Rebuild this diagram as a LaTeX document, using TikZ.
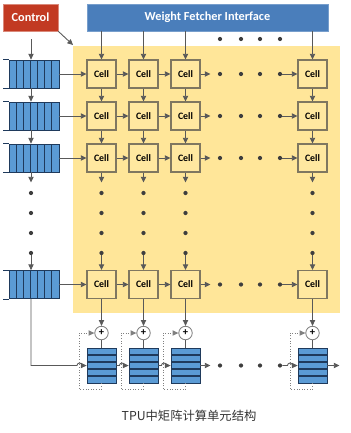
\documentclass[tikz,border=0pt]{standalone}
\usepackage{fontspec}
\usetikzlibrary{arrows.meta,calc}
\newfontfamily\calib{Carlito}
\newfontfamily\cjk{Noto Sans CJK SC}
\definecolor{ctrlred}{HTML}{C23A22}
\definecolor{fetchblue}{HTML}{4A7EBB}
\definecolor{bgyellow}{HTML}{FFE699}
\definecolor{cellfill}{HTML}{FFE8A0}
\definecolor{cellline}{HTML}{7F7760}
\definecolor{qblue}{HTML}{5B9BD5}
\definecolor{qline}{HTML}{1F3A5C}
\definecolor{wire}{HTML}{595959}

\begin{document}
\begin{tikzpicture}[x=0.02cm,y=-0.02cm,
  wire/.style={draw=wire,line width=0.5pt},
  arr/.style={wire,-{Triangle[length=3.2pt,width=3pt]}},
  fb/.style={draw=gray,line width=0.5pt,densely dotted,-{Triangle[length=3.2pt,width=3pt]}},
  dot/.style={circle,fill=wire!70!black,inner sep=0,minimum size=2.4pt},
  cell/.style={draw=cellline,fill=cellfill,line width=0.6pt,minimum width=0.58cm,minimum height=0.56cm,inner sep=0,
    text=black,font=\calib\bfseries\fontsize{5.6}{6}\selectfont},
  queue/.style={draw=qline,fill=qblue,line width=0.5pt,minimum width=1cm,minimum height=0.56cm,inner sep=0,
    path picture={\foreach \k in {1,...,6}
      \draw[qline,line width=0.5pt] ($(path picture bounding box.south west)!\k/7!(path picture bounding box.south east)$)
        -- ($(path picture bounding box.north west)!\k/7!(path picture bounding box.north east)$);}},
  acc/.style={draw=qline,fill=qblue,line width=0.5pt,minimum width=0.58cm,minimum height=0.7cm,inner sep=0,
    path picture={\foreach \k in {1,...,4}
      \draw[qline,line width=0.6pt] ($(path picture bounding box.north west)!\k/5!(path picture bounding box.south west)$)
        -- ($(path picture bounding box.north east)!\k/5!(path picture bounding box.south east)$);}},
  plus/.style={circle,draw=gray,fill=white,line width=0.5pt,minimum size=0.27cm,inner sep=0,
    font=\calib\bfseries\fontsize{6}{6}\selectfont},
  topbox/.style={minimum height=0.54cm,inner sep=0,text=white,font=\calib\bfseries\fontsize{7}{8}\selectfont}]
  \useasboundingbox (0,0) rectangle (351,433);

  % control and weight fetcher
  \node[topbox,fill=ctrlred,draw=ctrlred!60!white,minimum width=1.1cm] (ctrl) at (30.5,17.5) {Control};
  \node[topbox,fill=fetchblue,draw=fetchblue!75!white,minimum width=4.82cm] (wfi) at (207.5,17.5) {Weight Fetcher Interface};

  % systolic array area
  \fill[bgyellow] (73,46) rectangle (340,313);
  \coordinate (corner) at (73,45);
  \draw[arr] (ctrl.south east) -- (corner);

  % cells
  \node[cell] (c11) at (101.5,74) {Cell};
  \node[cell] (c12) at (143.5,74) {Cell};
  \node[cell] (c13) at (185.5,74) {Cell};
  \node[cell] (c14) at (312.5,74) {Cell};
  \node[cell] (c21) at (101.5,116) {Cell};
  \node[cell] (c22) at (143.5,116) {Cell};
  \node[cell] (c23) at (185.5,116) {Cell};
  \node[cell] (c24) at (312.5,116) {Cell};
  \node[cell] (c31) at (101.5,158) {Cell};
  \node[cell] (c32) at (143.5,158) {Cell};
  \node[cell] (c33) at (185.5,158) {Cell};
  \node[cell] (c34) at (312.5,158) {Cell};
  \node[cell] (c41) at (101.5,284.5) {Cell};
  \node[cell] (c42) at (143.5,284.5) {Cell};
  \node[cell] (c43) at (185.5,284.5) {Cell};
  \node[cell] (c44) at (312.5,284.5) {Cell};

  % input queues
  \node[queue] (q1) at (34,74) {};
  \node[queue] (q2) at (34,116) {};
  \node[queue] (q3) at (34,158) {};
  \node[queue] (q4) at (34,284.5) {};
  \foreach \r in {1,2,3,4} {
    \draw[qline,line width=0.5pt] (q\r.north west) -- ++(-6,0);
    \draw[qline,line width=0.5pt] (q\r.south west) -- ++(-6,0);
  }

  % dots
  \foreach \k/\x in {1/220,2/241,3/260,4/280} {
    \node[dot] (td\k) at (\x,39) {};
    \node[dot] (bd\k) at (\x,365.5) {};
    \foreach \r/\y in {1/74,2/116,3/158,4/284.5}
      \node[dot] (hd\r\k) at (\x,\y) {};
  }
  \foreach \k/\y in {1/193,2/213,3/233,4/253} {
    \node[dot] (qd\k) at (31,\y) {};
    \foreach \c/\x in {1/101.5,2/143.5,3/185.5,4/312.5}
      \node[dot] (vd\c\k) at (\x,\y) {};
  }

  % row connections
  \foreach \r in {1,2,3,4} {
    \draw[arr] (q\r.east) -- (c\r1);
    \draw[arr] (c\r1) -- (c\r2);
    \draw[arr] (c\r2) -- (c\r3);
    \draw[arr] (c\r3.east) -- ++(10,0);
    \draw[arr] (hd\r4) -- (c\r4);
  }

  % column connections
  \foreach \c in {1,2,3,4} {
    \draw[arr] (c1\c.north |- wfi.south) -- (c1\c.north);
    \draw[arr] (c1\c) -- (c2\c);
    \draw[arr] (c2\c) -- (c3\c);
    \draw[arr] (c3\c.south) -- ++(0,10);
    \draw[arr] (vd\c4) -- (c4\c);
  }

  % queue column
  \coordinate (colx) at (31,0);
  \coordinate (qin) at (31,39);
  \draw[arr] (qin) -- (colx |- q1.north);
  \draw[arr] (colx |- q1.south) -- (colx |- q2.north);
  \draw[arr] (colx |- q2.south) -- (colx |- q3.north);
  \draw[arr] (colx |- q3.south) -- ++(0,10);
  \draw[arr] (qd4) -- (colx |- q4.north);

  % accumulators
  \foreach \c/\x in {1/101.5,2/143.5,3/185.5,4/312.5} {
    \node[plus] (p\c) at (\x,333) {+};
    \node[acc] (a\c) at (\x,365.5) {};
    \draw[arr] (c4\c) -- (p\c);
    \draw[wire] (p\c) -- (a\c);
    \draw[fb] (a\c.south) -- ++(0,6) -- ++(-22.5,0) |- (p\c.west);
  }
  \draw[arr] (colx |- q4.south) -- (colx |- a1.west) -- ++(46,0)
    arc[start angle=180,end angle=360,radius=2.5] -- (a1.west);
  \draw[arr] (a1.east) -- ++(3,0) arc[start angle=180,end angle=360,radius=2.5] -- (a2.west);
  \draw[arr] (a2.east) -- ++(3,0) arc[start angle=180,end angle=360,radius=2.5] -- (a3.west);
  \draw[arr] (a3.east) -- ++(10,0);
  \draw[arr] (bd4) -- (287.5,365.5) arc[start angle=180,end angle=360,radius=2.5] -- (a4.west);
  \draw[arr] (a4.east) -- ++(12,0);

  % caption
  \node[text=black!80,font=\cjk\fontsize{7}{9}\selectfont] (cap) at (189,416) {TPU中矩阵计算单元结构};
\end{tikzpicture}
\end{document}
